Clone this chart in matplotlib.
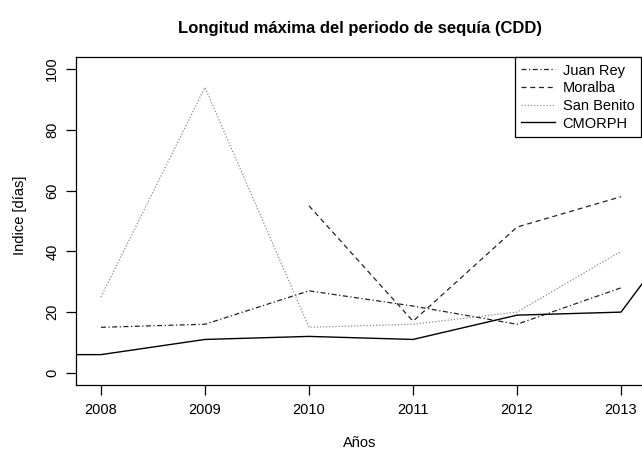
import matplotlib.pyplot as plt
import numpy as np

plt.rcParams.update({
    "font.family": ["Liberation Sans", "DejaVu Sans"],
    "font.size": 10.5,
    "axes.linewidth": 0.9,
    "xtick.major.width": 0.9,
    "ytick.major.width": 0.9,
    "xtick.major.size": 7,
    "ytick.major.size": 7,
})

# Values
years = [2008, 2009, 2010, 2011, 2012, 2013]
juan_rey = [15, 16, 27, 22, 16, 28]
moralba_years = [2010, 2011, 2012, 2013]
moralba = [55, 17, 48, 58]
san_benito = [25, 94, 15, 16, 20, 40]
cmorph_years = [2007, 2008, 2009, 2010, 2011, 2012, 2013, 2014]
cmorph = [6, 6, 11, 12, 11, 19, 20, 66]

fig = plt.figure(figsize=(6.42, 4.5), dpi=100)
# plot region runs past the right edge of the picture (cropped like the reference)
ax = fig.add_axes([76 / 642, 1 - 385 / 450, 674 / 642, 328 / 450])

ax.plot(years, juan_rey, color='#222222', lw=0.9, ls=(0, (4, 2, 1, 2)), label='Juan Rey')
ax.plot(moralba_years, moralba, color='#222222', lw=0.9, ls=(0, (4, 3)), label='Moralba')
ax.plot(years, san_benito, color='#8a8a8a', lw=0.9, ls=(0, (1, 1.5)), label='San Benito')
ax.plot(cmorph_years, cmorph, color='black', lw=1.0, label='CMORPH')

ax.set_xlim(2007.76, 2014.24)
ax.set_ylim(-4, 104)
ax.set_xticks(years)
ax.set_yticks([0, 20, 40, 60, 80, 100])
ax.tick_params(axis='x', pad=6)
ax.tick_params(axis='y', pad=5)
for lab in ax.get_yticklabels():
    lab.set_rotation(90)
    lab.set_va('center')

leg = fig.legend(loc='upper right', bbox_to_anchor=(641 / 642, 1 - 57 / 450),
                 fontsize=10.5, frameon=True, fancybox=False, edgecolor='black',
                 framealpha=1, handlelength=2.3, labelspacing=0.25,
                 borderpad=0.45, handletextpad=0.55, borderaxespad=0)
leg.get_frame().set_linewidth(0.9)

fig.text(360 / 642, 1 - 28 / 450, 'Longitud máxima del periodo de sequía (CDD)',
         ha='center', va='center', fontsize=12, fontweight='bold')
fig.text(20 / 642, 1 - 215 / 450, 'Indice [días]', rotation=90,
         ha='center', va='center', fontsize=10.5)
fig.text(360 / 642, 1 - 436 / 450, 'Años', ha='center', va='top', fontsize=10.5)

plt.savefig('out.png', dpi=100)
